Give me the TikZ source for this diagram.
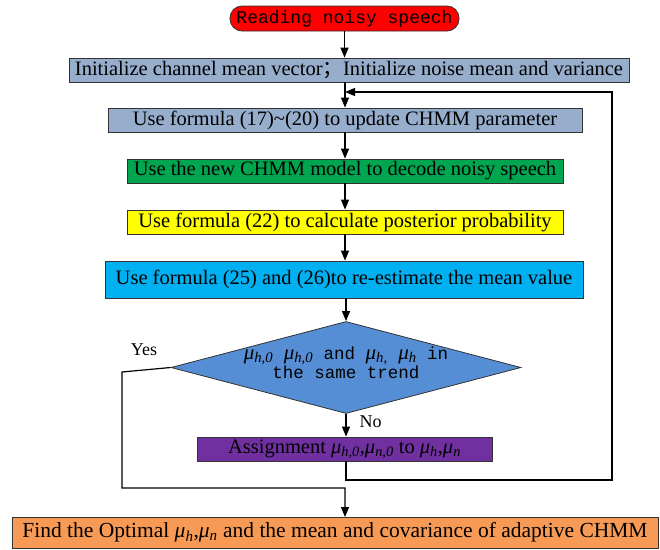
\documentclass[tikz,border=0pt]{standalone}
\usepackage{fontspec}
\setmainfont{Liberation Serif}
\newfontfamily\monofont{Liberation Mono}
\newfontfamily\cjk{Noto Sans CJK SC}
\usetikzlibrary{arrows.meta,shapes.geometric}

\definecolor{startred}{HTML}{FF0000}
\definecolor{initblue}{HTML}{97ADCC}
\definecolor{decgreen}{HTML}{00A550}
\definecolor{postyellow}{HTML}{FFFF00}
\definecolor{estcyan}{HTML}{00B0F0}
\definecolor{diablue}{HTML}{558ED5}
\definecolor{asgpurple}{HTML}{7030A0}
\definecolor{finorange}{HTML}{F79A55}

\newcommand{\muof}[1]{\textit{μ}\textsubscript{\textit{#1}}}
\newcommand{\bigmu}[1]{{\rmfamily\fontsize{21}{15}\selectfont\muof{#1}}}

\tikzset{
  stepbox/.style={draw=black!80, line width=0.8pt, inner sep=0pt,
    minimum height=24pt, font=\fontsize{20.5}{22}\selectfont},
  flow/.style={line width=1.2pt, -{Triangle[length=10pt,width=8pt]}},
  tag/.style={font=\fontsize{18}{20}\selectfont}
}

\begin{document}
\begin{tikzpicture}[x=1pt,y=-1pt]

    \useasboundingbox (0,0) rectangle (660,549);

    %draw boxes
    \node[stepbox, fill=startred, rounded corners=12pt, minimum width=229pt, minimum height=25pt,
      font=\monofont\fontsize{18}{20}\selectfont] (start) at (344.5,18.5) {Reading noisy speech};
    \node[stepbox, fill=initblue, minimum width=560pt] (init) at (349,70)
      {Initialize channel mean vector{\cjk ；}Initialize noise mean and variance};
    \node[stepbox, fill=initblue, minimum width=474pt] (upd) at (345,120)
      {Use formula (17)\textasciitilde(20) to update CHMM parameter};
    \node[stepbox, fill=decgreen, minimum width=436pt] (dec) at (345,171)
      {Use the new CHMM model to decode noisy speech};
    \node[stepbox, fill=postyellow, minimum width=436pt] (post) at (345,222)
      {Use formula (22) to calculate posterior probability};
    \node[stepbox, fill=estcyan, minimum width=478pt, minimum height=37pt] (est) at (344,279.5)
      {Use formula (25) and (26)to re-estimate the mean value};
    \node[diamond, draw=black!80, line width=0.8pt, fill=diablue, inner sep=0pt,
      minimum width=350pt, minimum height=92pt] (dia) at (346,367.5) {};
    \node[align=center, font=\monofont\fontsize{17.5}{16}\selectfont] (diatext) at (346,363)
      {\bigmu{h,0} \bigmu{h,0} and \bigmu{h,} \bigmu{h} in\\the same trend};
    \node[stepbox, fill=asgpurple, minimum width=295pt] (asg) at (344.5,449)
      {Assignment \muof{h,0},\muof{n,0} to \muof{h},\muof{n}};
    \node[stepbox, fill=finorange, minimum width=646pt, minimum height=31pt, font=\fontsize{21.5}{22}\selectfont] (fin) at (335,532.5)
      {Find the Optimal \muof{h},\muof{n} and the mean and covariance of adaptive CHMM};

    %draw labels
    \node[tag] (yes) at (144,350) {Yes};
    \node[tag, anchor=west] (no) at (356,422) {No};

    %draw helper points
    \coordinate (loopB) at (612,480);
    \coordinate (loopT) at (612,92);
    \coordinate (yesA) at (122,372);
    \coordinate (yesB) at (345,488);
    \coordinate (finIn) at (345,517);

    %draw arrows
    \draw[flow] (start.south) -- (start.south |- init.north);
    \draw[flow] (upd.north |- init.south) -- (upd.north);
    \draw[flow] (upd.south) -- (dec.north);
    \draw[flow] (dec.south) -- (post.north);
    \draw[flow] (post.south) -- (est.north -| post.south);
    \draw[flow] (est.south -| dia.north) -- (dia.north);
    \draw[flow] (dia.south) -- (dia.south |- asg.north);
    \draw[flow] (asg.south -| dia.south) |- (loopB) -- (loopT) -- (upd.north |- loopT);
    \draw[flow] (dia.west) -- (yesA) |- (yesB) -- (finIn);

\end{tikzpicture}
\end{document}
